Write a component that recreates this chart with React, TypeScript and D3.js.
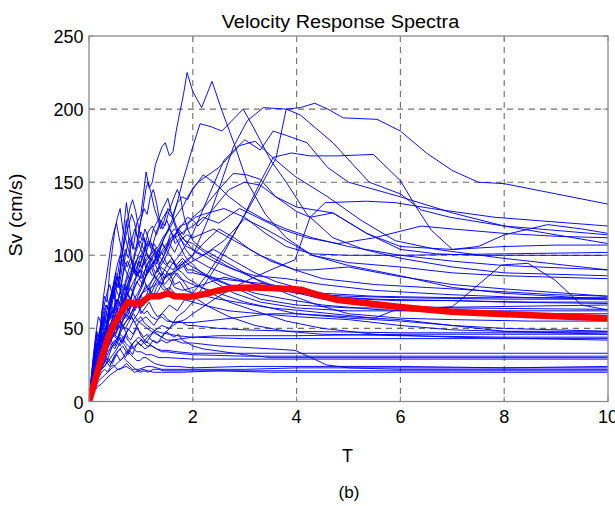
import React from "react";
import * as d3 from "d3";

// ---- axis / label data ----
const xTicks = [0, 2, 4, 6, 8, 10];
const yTicks = [0, 50, 100, 150, 200, 250];
const titleText = "Velocity Response Spectra";
const xLabel = "T";
const yLabel = "Sv (cm/s)";
const caption = "(b)";

// ---- individual record spectra [T, Sv] ----
const rec01 = [[0,0],[0.06,14],[0.12,30],[0.18,42],[0.25,55],[0.32,50],[0.4,68],[0.48,62],[0.55,85],[0.62,78],[0.7,100],[0.78,112],[0.85,104],[0.92,122],[1.0,128],[1.05,142],[1.1,157],[1.16,146],[1.22,150],[1.28,162],[1.34,168],[1.4,174],[1.47,177],[1.55,168],[1.62,171],[1.68,185],[1.74,196],[1.82,210],[1.89,225],[2.0,212],[2.17,201],[2.37,219],[2.55,200],[2.8,176],[3.05,150],[3.4,128],[3.8,112],[4.3,100],[5,93],[6,86],[7,78],[8,74],[9,72],[10,70]];
const rec02 = [[0,0],[0.07,12],[0.14,24],[0.22,38],[0.3,34],[0.38,48],[0.46,56],[0.55,52],[0.64,66],[0.72,74],[0.8,70],[0.9,84],[1.0,90],[1.1,86],[1.2,98],[1.3,94],[1.4,108],[1.5,116],[1.6,124],[1.7,136],[1.8,150],[1.9,162],[1.98,172],[2.14,190],[2.35,188],[2.56,185],[2.97,200],[3.16,188],[3.5,165],[3.8,150],[4.2,128],[4.7,112],[5.3,104],[6,98],[7,92],[8,88],[9,87],[10,86]];
const rec03 = [[0,0],[0.08,16],[0.16,30],[0.24,42],[0.32,38],[0.4,52],[0.5,58],[0.6,50],[0.7,62],[0.8,70],[0.9,64],[1.0,72],[1.1,80],[1.2,74],[1.3,82],[1.42,88],[1.55,84],[1.7,90],[1.85,96],[2.0,100],[2.3,125],[2.52,147],[2.78,174],[3.05,192],[3.36,201],[3.8,200],[4.07,196],[4.7,177],[5.4,150],[6,142],[6.4,131],[6.96,126],[8,120],[10,114]];
const rec04 = [[0,0],[0.08,12],[0.16,24],[0.25,32],[0.35,28],[0.45,38],[0.55,44],[0.65,40],[0.75,50],[0.85,46],[0.95,54],[1.1,58],[1.25,52],[1.4,60],[1.55,66],[1.7,62],[1.85,70],[2.0,74],[2.3,88],[2.8,115],[3.2,140],[3.5,160],[3.6,166],[3.8,200],[4.07,201],[4.35,204],[4.6,200],[4.9,194],[5.55,193],[6.0,185],[6.5,170],[7.0,158],[7.5,150],[8.0,149],[9,142],[10,135]];
const rec05 = [[0,0],[0.08,10],[0.16,18],[0.25,24],[0.35,30],[0.45,26],[0.55,34],[0.65,38],[0.75,32],[0.85,40],[0.95,44],[1.1,40],[1.25,48],[1.4,52],[1.55,50],[1.7,58],[1.85,62],[2.0,68],[2.5,95],[3.0,128],[3.3,150],[3.55,167],[3.9,170],[4.26,168],[4.8,168],[5.48,169],[6.0,151],[6.34,131],[6.6,117],[7.0,104],[7.5,106],[8.0,114],[8.84,121],[9.5,118],[10,115]];
const rec06 = [[0,0],[0.06,14],[0.12,28],[0.2,40],[0.28,48],[0.36,44],[0.44,56],[0.52,68],[0.6,72],[0.68,66],[0.76,82],[0.84,90],[0.92,86],[1.0,96],[1.08,104],[1.16,98],[1.25,108],[1.35,102],[1.45,112],[1.55,118],[1.65,112],[1.75,120],[1.9,122],[2.0,126],[2.2,132],[2.5,145],[2.78,156],[3.04,155],[3.3,152],[3.6,140],[4.0,130],[4.26,126],[4.7,129],[5.35,115],[6,104],[6.7,101],[7.5,100],[8.5,100],[10,100]];
const rec07 = [[0,0],[0.07,12],[0.14,22],[0.22,32],[0.3,28],[0.38,40],[0.46,46],[0.55,42],[0.64,54],[0.72,60],[0.8,56],[0.9,66],[1.0,72],[1.1,68],[1.2,78],[1.3,84],[1.4,80],[1.5,88],[1.6,94],[1.7,98],[1.85,106],[2.0,115],[2.3,140],[2.6,165],[3.0,179],[3.3,172],[3.55,185],[3.8,182],[4.2,177],[4.6,160],[5.0,150],[5.3,147],[6,140],[7,129],[8,120],[10,108]];
const rec08 = [[0,0],[0.07,10],[0.15,18],[0.24,22],[0.32,28],[0.4,24],[0.5,32],[0.6,36],[0.7,30],[0.8,38],[0.9,42],[1.0,38],[1.12,44],[1.25,48],[1.4,44],[1.55,50],[1.7,54],[1.85,56],[2.0,60],[2.5,72],[3.0,82],[3.5,90],[3.97,97],[4.26,126],[4.55,136],[5.35,137],[5.9,136],[6.6,132],[7.82,126],[10,120]];
const rec09 = [[0,0],[0.06,16],[0.12,32],[0.2,46],[0.28,58],[0.34,52],[0.42,66],[0.5,78],[0.58,72],[0.66,88],[0.74,96],[0.82,90],[0.9,102],[0.98,110],[1.06,104],[1.14,116],[1.22,120],[1.3,114],[1.4,124],[1.5,130],[1.6,126],[1.7,136],[1.8,140],[1.9,138],[2.0,146],[2.1,150],[2.5,160],[2.9,175],[3.2,178],[3.6,165],[3.97,154],[4.6,140],[5.24,124],[5.9,110],[6.7,104],[7.97,98],[10,90]];
const rec10 = [[0,0],[0.06,14],[0.13,30],[0.2,44],[0.27,40],[0.35,54],[0.43,62],[0.5,58],[0.58,72],[0.66,80],[0.74,76],[0.82,86],[0.9,90],[0.98,84],[1.06,96],[1.15,100],[1.24,94],[1.33,104],[1.42,108],[1.52,102],[1.62,112],[1.72,118],[1.82,114],[1.92,122],[2.05,126],[2.2,128],[2.6,132],[3.0,126],[3.4,115],[3.8,106],[4.3,101],[5,100],[6,100],[8,101],[10,102]];
const rec11 = [[0,0],[0.05,16],[0.1,32],[0.16,46],[0.22,42],[0.28,58],[0.34,66],[0.4,62],[0.46,78],[0.52,88],[0.58,84],[0.64,100],[0.7,112],[0.76,120],[0.82,128],[0.88,122],[0.94,110],[1.0,104],[1.06,112],[1.12,100],[1.2,96],[1.28,104],[1.36,94],[1.45,100],[1.55,108],[1.65,102],[1.75,110],[1.88,114],[2.0,112],[2.4,118],[2.8,110],[3.3,100],[3.97,90],[4.3,90],[5.0,92],[5.9,86],[7.0,80],[8.0,77],[10,72]];
const rec12 = [[0,0],[0.05,18],[0.1,34],[0.15,46],[0.2,42],[0.26,58],[0.32,66],[0.38,62],[0.44,76],[0.5,82],[0.56,78],[0.62,96],[0.68,112],[0.72,124],[0.78,108],[0.84,92],[0.9,86],[0.96,96],[1.02,92],[1.1,102],[1.18,110],[1.25,104],[1.32,96],[1.4,102],[1.5,94],[1.6,98],[1.7,90],[1.8,94],[1.9,88],[2.0,88],[2.5,84],[3.0,82],[3.5,80],[3.97,77],[4.6,72],[5.3,70],[5.9,69],[7.0,69],[8.0,68],[10,67]];
const rec13 = [[0,0],[0.06,14],[0.12,28],[0.18,36],[0.24,32],[0.3,44],[0.37,52],[0.44,48],[0.51,60],[0.58,66],[0.65,62],[0.72,76],[0.8,70],[0.88,78],[0.96,84],[1.04,80],[1.12,90],[1.2,94],[1.28,88],[1.36,92],[1.45,84],[1.55,88],[1.65,80],[1.75,82],[1.85,76],[2.0,74],[2.5,70],[3.0,67],[3.5,64],[3.97,62.6],[4.6,60.3],[5.5,57],[5.9,62.6],[7.0,64.8],[7.95,93.4],[8.46,94.5],[8.98,83],[9.49,66],[10,62.6]];
const rec14 = [[0,0],[0.06,12],[0.12,24],[0.2,34],[0.28,30],[0.36,42],[0.44,50],[0.52,46],[0.6,58],[0.68,66],[0.76,62],[0.84,74],[0.92,82],[1.0,78],[1.08,90],[1.16,96],[1.24,92],[1.32,102],[1.4,108],[1.48,104],[1.56,114],[1.64,118],[1.72,116],[1.8,112],[1.9,108],[2.05,102],[2.2,100],[2.6,110],[3.0,125],[3.4,118],[3.8,110],[4.3,100],[5,95],[6,92],[7,88],[8,86],[10,84]];
const rec15 = [[0,0],[0.05,16],[0.1,34],[0.15,48],[0.2,44],[0.25,62],[0.3,72],[0.35,68],[0.4,90],[0.45,104],[0.5,118],[0.55,126],[0.6,132],[0.65,118],[0.7,112],[0.76,104],[0.82,96],[0.88,88],[0.94,94],[1.0,100],[1.06,96],[1.12,88],[1.2,92],[1.28,84],[1.36,88],[1.45,80],[1.55,84],[1.65,78],[1.8,76],[2.0,78],[2.2,80],[2.6,85],[3.0,82],[3.5,78],[4,74],[5,72],[6,71],[8,70],[10,70]];
const rec16 = [[0,0],[0.05,18],[0.1,34],[0.15,44],[0.2,40],[0.26,54],[0.32,62],[0.38,58],[0.44,72],[0.5,82],[0.56,78],[0.62,96],[0.68,112],[0.74,124],[0.8,134],[0.84,138],[0.9,130],[0.96,118],[1.02,110],[1.08,118],[1.14,112],[1.2,104],[1.28,98],[1.36,92],[1.44,96],[1.52,102],[1.6,98],[1.7,92],[1.8,96],[1.9,90],[2.0,90],[2.3,85],[2.8,78],[3.3,70],[4,66],[5,64],[6,64],[8,65],[10,66]];
const rec17 = [[0,0],[0.06,14],[0.12,28],[0.18,38],[0.24,34],[0.3,46],[0.36,54],[0.42,50],[0.48,62],[0.55,70],[0.62,66],[0.7,82],[0.78,92],[0.86,98],[0.92,108],[0.98,120],[1.04,132],[1.1,146],[1.14,150],[1.2,142],[1.26,132],[1.32,126],[1.38,118],[1.45,124],[1.52,132],[1.6,128],[1.68,120],[1.76,114],[1.85,110],[2.0,108],[2.3,100],[2.7,92],[3.2,84],[3.8,76],[4.5,70],[5.5,66],[7,64],[10,63]];
const rec18 = [[0,0],[0.04,16],[0.08,30],[0.13,46],[0.18,58],[0.23,54],[0.28,72],[0.33,84],[0.38,96],[0.43,108],[0.48,116],[0.53,122],[0.58,112],[0.63,104],[0.68,96],[0.74,92],[0.8,98],[0.86,94],[0.92,86],[0.98,90],[1.05,84],[1.12,78],[1.2,82],[1.28,86],[1.36,80],[1.45,76],[1.55,78],[1.65,74],[1.8,70],[2.0,68],[2.2,66],[2.7,62],[3.3,60],[4,58],[5,56],[6,52],[7,49],[8,48],[10,48]];
const rec19 = [[0,0],[0.05,14],[0.1,28],[0.16,38],[0.22,46],[0.28,42],[0.34,54],[0.4,60],[0.46,56],[0.52,70],[0.58,66],[0.64,74],[0.7,78],[0.76,72],[0.82,68],[0.88,62],[0.94,66],[1.0,60],[1.08,64],[1.16,68],[1.24,62],[1.32,58],[1.42,60],[1.52,56],[1.62,54],[1.75,55],[1.9,52],[2.0,52],[2.5,50],[3,49],[4,48],[6,47],[8,47],[10,47]];
const rec20 = [[0,0],[0.05,12],[0.1,24],[0.16,34],[0.22,30],[0.28,40],[0.35,48],[0.42,54],[0.5,50],[0.58,56],[0.66,60],[0.74,58],[0.82,66],[0.9,70],[0.98,64],[1.06,66],[1.14,72],[1.22,70],[1.3,78],[1.38,82],[1.46,78],[1.54,76],[1.62,84],[1.7,88],[1.78,84],[1.86,80],[1.94,76],[2.0,72],[2.3,65],[2.7,58],[3.2,52],[3.8,48],[4.5,46],[6,45],[8,44],[10,44]];
const rec21 = [[0,0],[0.06,10],[0.12,20],[0.18,28],[0.24,34],[0.3,32],[0.36,38],[0.42,42],[0.48,46],[0.55,44],[0.62,50],[0.7,54],[0.78,58],[0.86,64],[0.94,72],[1.02,78],[1.1,86],[1.18,92],[1.25,96],[1.32,90],[1.4,86],[1.48,92],[1.56,96],[1.64,94],[1.72,90],[1.8,88],[1.9,84],[2.0,82],[2.3,75],[2.7,68],[3.2,62],[3.8,55],[4.5,50],[5.5,46],[7,44],[10,42]];
const rec22 = [[0,0],[0.05,14],[0.1,26],[0.15,34],[0.2,38],[0.25,44],[0.3,48],[0.35,44],[0.4,52],[0.45,50],[0.5,46],[0.55,50],[0.6,56],[0.65,52],[0.7,48],[0.75,44],[0.8,42],[0.86,46],[0.92,50],[0.98,48],[1.05,44],[1.12,46],[1.2,42],[1.3,40],[1.4,42],[1.5,40],[1.6,42],[1.8,43],[2.0,44],[2.5,45],[3,45],[4,45],[6,46],[8,46],[10,46]];
const rec23 = [[0,0],[0.04,14],[0.08,24],[0.13,32],[0.18,38],[0.23,46],[0.28,52],[0.33,60],[0.38,68],[0.43,74],[0.47,76],[0.52,66],[0.57,60],[0.62,58],[0.67,64],[0.72,66],[0.77,62],[0.82,58],[0.88,54],[0.94,56],[1.0,58],[1.06,54],[1.12,52],[1.2,50],[1.3,48],[1.4,47],[1.55,46],[1.7,45],[2.0,44],[3,43],[4,43],[6,43],[8,43],[10,43]];
const rec24 = [[0,0],[0.05,12],[0.1,22],[0.15,28],[0.2,26],[0.25,32],[0.3,36],[0.35,40],[0.4,44],[0.45,40],[0.5,38],[0.55,42],[0.6,46],[0.65,44],[0.7,40],[0.76,38],[0.82,36],[0.88,38],[0.94,40],[1.0,42],[1.06,40],[1.12,38],[1.2,38],[1.3,36],[1.4,35],[1.5,35],[1.7,34],[2,33],[3,33],[4,33],[6,33],[8,33],[10,33]];
const rec25 = [[0,0],[0.05,10],[0.1,20],[0.16,26],[0.22,24],[0.28,32],[0.34,36],[0.4,42],[0.46,46],[0.52,50],[0.58,56],[0.64,52],[0.7,50],[0.76,54],[0.82,58],[0.88,54],[0.94,50],[1.0,45],[1.07,42],[1.14,40],[1.22,38],[1.3,36],[1.4,34],[1.5,34],[1.7,33],[2,32],[3,31],[4,31],[6,31],[8,31],[10,31]];
const rec26 = [[0,0],[0.06,8],[0.12,14],[0.18,18],[0.24,22],[0.3,24],[0.36,28],[0.42,26],[0.48,30],[0.54,32],[0.6,28],[0.66,30],[0.72,34],[0.78,35],[0.84,32],[0.9,38],[0.96,40],[1.02,38],[1.08,36],[1.16,38],[1.24,42],[1.32,40],[1.4,44],[1.48,48],[1.56,46],[1.64,44],[1.72,46],[1.8,42],[1.9,40],[2.0,38],[2.2,36],[2.6,34],[3,32],[3.5,30],[4,30],[6,30],[8,30],[10,30]];
const rec27 = [[0,0],[0.05,14],[0.1,26],[0.15,34],[0.2,32],[0.25,40],[0.3,46],[0.35,52],[0.4,58],[0.45,62],[0.5,66],[0.55,70],[0.6,66],[0.65,62],[0.7,58],[0.75,56],[0.8,58],[0.86,60],[0.92,56],[0.98,54],[1.05,52],[1.12,50],[1.2,48],[1.3,46],[1.4,44],[1.5,42],[1.65,42],[1.8,40],[2.0,40],[2.5,38],[3.0,37],[3.5,36],[3.97,35],[4.58,25],[5,23],[6,22],[8,22],[10,22]];
const rec28 = [[0,0],[0.05,10],[0.1,18],[0.15,24],[0.2,22],[0.25,28],[0.3,30],[0.35,34],[0.4,36],[0.45,40],[0.5,42],[0.55,40],[0.6,38],[0.65,42],[0.7,45],[0.75,42],[0.8,40],[0.86,36],[0.92,34],[1.0,34],[1.1,32],[1.2,32],[1.35,30],[1.5,30],[2,29],[3,29],[4,29],[6,29],[8,29],[10,29]];
const rec29 = [[0,0],[0.06,8],[0.12,14],[0.18,16],[0.24,20],[0.3,22],[0.36,20],[0.42,24],[0.48,25],[0.54,22],[0.6,22],[0.66,24],[0.72,26],[0.78,24],[0.84,22],[0.9,22],[0.98,20],[1.06,21],[1.14,20],[1.24,22],[1.34,22],[1.44,21],[1.6,21],[1.8,21],[2,21],[3,21],[4,21],[6,21],[8,21],[10,21]];
const rec30 = [[0,0],[0.06,6],[0.12,10],[0.18,14],[0.24,16],[0.3,18],[0.36,20],[0.42,22],[0.48,24],[0.54,26],[0.6,28],[0.66,30],[0.72,28],[0.78,26],[0.84,24],[0.9,22],[0.96,22],[1.04,23],[1.12,24],[1.2,24],[1.3,23],[1.4,22],[1.5,22],[1.7,22],[2,22],[3,22],[4,23],[6,23],[8,23],[10,23]];
const rec31 = [[0,0],[0.08,6],[0.16,10],[0.24,12],[0.32,15],[0.4,18],[0.48,20],[0.56,22],[0.64,23],[0.72,24],[0.8,22],[0.88,20],[0.96,21],[1.04,22],[1.14,21],[1.24,20],[1.4,20],[1.6,20],[1.8,20],[2.5,21],[3.5,20],[5,20],[7,20],[10,20]];
const rec32 = [[0,0],[0.05,10],[0.1,18],[0.15,24],[0.2,22],[0.25,28],[0.3,32],[0.35,36],[0.4,40],[0.45,38],[0.5,36],[0.55,40],[0.6,44],[0.65,40],[0.7,38],[0.75,34],[0.8,32],[0.86,30],[0.92,28],[0.98,28],[1.04,30],[1.1,30],[1.18,28],[1.26,26],[1.36,25],[1.5,24],[1.7,24],[2,23],[3,24],[4,24],[6,24],[8,23],[10,24]];
const rec33 = [[0,0],[0.05,16],[0.1,30],[0.15,40],[0.2,38],[0.25,50],[0.3,58],[0.35,54],[0.4,68],[0.45,76],[0.5,86],[0.55,94],[0.6,100],[0.65,96],[0.7,90],[0.75,86],[0.8,82],[0.85,88],[0.9,94],[0.95,100],[1.0,104],[1.05,100],[1.1,94],[1.16,90],[1.22,86],[1.3,88],[1.38,92],[1.46,90],[1.55,86],[1.65,88],[1.75,84],[1.88,82],[2,80],[2.5,74],[3,68],[3.5,64],[4,60],[5,57],[6,55],[7,52],[8,50],[10,48]];
const rec34 = [[0,0],[0.06,12],[0.12,24],[0.18,32],[0.24,30],[0.3,40],[0.36,48],[0.42,46],[0.48,56],[0.55,64],[0.62,62],[0.7,76],[0.78,84],[0.85,92],[0.92,88],[1.0,84],[1.08,90],[1.15,96],[1.22,100],[1.3,102],[1.38,98],[1.46,94],[1.54,92],[1.62,90],[1.7,94],[1.8,98],[1.9,94],[2.0,92],[2.3,86],[2.7,80],[3.2,74],[3.8,70],[4.5,66],[5.5,63],[7,61],[8.5,60],[10,60]];
const rec35 = [[0,0],[0.07,10],[0.14,18],[0.22,22],[0.3,24],[0.38,28],[0.46,32],[0.54,36],[0.62,42],[0.7,46],[0.78,50],[0.86,56],[0.94,60],[1.02,66],[1.1,72],[1.18,80],[1.26,86],[1.34,92],[1.42,98],[1.5,106],[1.58,112],[1.64,114],[1.7,110],[1.76,106],[1.84,100],[1.92,96],[2.0,94],[2.1,90],[2.4,82],[2.8,74],[3.3,68],[4,64],[5,62],[6,62],[8,62],[10,62]];
const rec36 = [[0,0],[0.06,10],[0.12,18],[0.18,24],[0.24,22],[0.3,28],[0.38,34],[0.46,38],[0.54,42],[0.62,48],[0.7,54],[0.78,58],[0.86,64],[0.94,68],[1.02,74],[1.1,78],[1.18,76],[1.26,72],[1.34,76],[1.42,82],[1.5,86],[1.6,88],[1.7,90],[1.8,92],[1.95,95],[2.1,98],[2.4,104],[2.8,96],[3.2,88],[3.6,82],[4,78],[4.5,74],[5.5,72],[7,71],[10,71]];
const rec37 = [[0,0],[0.05,14],[0.1,26],[0.15,34],[0.2,32],[0.25,42],[0.3,50],[0.35,48],[0.4,62],[0.45,72],[0.5,80],[0.55,86],[0.6,98],[0.64,110],[0.68,122],[0.72,136],[0.76,126],[0.8,114],[0.85,106],[0.9,104],[0.95,110],[1.0,116],[1.06,112],[1.12,106],[1.18,110],[1.24,118],[1.3,122],[1.36,126],[1.42,132],[1.48,136],[1.52,139],[1.58,130],[1.64,122],[1.7,116],[1.78,110],[1.88,106],[2.0,104],[2.4,96],[2.8,90],[3.2,86],[3.8,84],[4.5,80],[5.5,76],[7,73],[8.5,71],[10,70]];
const rec38 = [[0,0],[0.04,12],[0.08,24],[0.12,34],[0.16,40],[0.2,48],[0.24,56],[0.28,64],[0.32,70],[0.36,76],[0.4,80],[0.44,74],[0.48,70],[0.52,86],[0.56,82],[0.6,76],[0.65,70],[0.7,68],[0.75,74],[0.8,78],[0.85,74],[0.9,70],[0.95,66],[1.0,62],[1.06,60],[1.12,62],[1.2,58],[1.3,56],[1.4,58],[1.5,55],[1.7,54],[2,54],[2.5,56],[3,58],[3.5,60],[4,60],[5,58],[6,56],[7,52],[8,48],[10,46]];
const rec39 = [[0,0],[0.06,12],[0.12,24],[0.18,32],[0.24,30],[0.3,38],[0.36,46],[0.42,50],[0.48,48],[0.55,58],[0.62,66],[0.7,70],[0.78,76],[0.86,82],[0.94,88],[1.02,92],[1.1,96],[1.18,100],[1.26,104],[1.34,106],[1.42,112],[1.5,116],[1.58,120],[1.66,126],[1.74,130],[1.82,134],[1.9,140],[2.0,145],[2.2,155],[2.4,150],[2.7,140],[3.0,132],[3.4,124],[3.8,118],[4.3,112],[5,106],[6,100],[7,96],[8,93],[10,90]];
const rec40 = [[0,0],[0.06,12],[0.12,22],[0.18,30],[0.24,28],[0.3,36],[0.38,42],[0.46,46],[0.54,52],[0.62,56],[0.7,60],[0.78,64],[0.86,66],[0.94,70],[1.02,74],[1.1,76],[1.2,78],[1.3,80],[1.4,84],[1.5,86],[1.6,88],[1.7,92],[1.8,94],[1.9,96],[2.0,100],[2.2,108],[2.5,118],[2.8,112],[3.1,104],[3.5,96],[3.97,90],[4.5,84],[5.5,80],[6.5,78],[7.5,76],[9,73],[10,72]];
const rec41 = [[0,0],[0.06,10],[0.12,20],[0.18,28],[0.24,26],[0.3,32],[0.38,38],[0.46,44],[0.54,48],[0.62,54],[0.7,58],[0.78,64],[0.86,70],[0.94,74],[1.02,80],[1.1,86],[1.18,90],[1.26,96],[1.34,100],[1.42,104],[1.5,108],[1.58,112],[1.66,114],[1.74,118],[1.82,122],[1.9,126],[2.0,124],[2.1,120],[2.4,132],[2.7,145],[3.0,150],[3.3,148],[3.6,140],[4.0,133],[4.7,129],[5.35,115],[6,106],[7,104],[8,106],[9,107],[10,107]];
const rec42 = [[0,0],[0.05,14],[0.1,26],[0.16,36],[0.22,34],[0.28,44],[0.34,52],[0.4,56],[0.46,62],[0.52,66],[0.58,72],[0.64,76],[0.7,80],[0.76,86],[0.82,90],[0.88,94],[0.94,98],[1.0,100],[1.06,104],[1.12,108],[1.18,106],[1.24,104],[1.3,102],[1.36,100],[1.42,102],[1.5,106],[1.58,110],[1.66,112],[1.74,114],[1.82,116],[1.9,118],[2.0,120],[2.2,126],[2.5,122],[2.9,132],[3.3,125],[3.7,118],[4.2,112],[4.8,108],[5.5,112],[6.4,120],[7,118],[8,115],[9,113],[10,112]];
const rec43 = [[0,0],[0.05,14],[0.1,28],[0.16,40],[0.22,36],[0.28,50],[0.34,60],[0.4,56],[0.46,70],[0.52,82],[0.58,78],[0.64,92],[0.7,104],[0.76,98],[0.82,110],[0.88,118],[0.94,112],[1.0,124],[1.06,132],[1.12,128],[1.18,140],[1.24,145],[1.3,136],[1.36,124],[1.42,118],[1.5,124],[1.58,116],[1.66,108],[1.76,112],[1.86,104],[2.0,98],[2.3,92],[2.7,86],[3.2,80],[3.8,76],[4.5,72],[5.5,70],[7,69],[8.5,68],[10,68]];
const rec44 = [[0,0],[0.05,12],[0.1,24],[0.16,34],[0.22,30],[0.28,42],[0.34,50],[0.4,46],[0.46,58],[0.52,64],[0.58,60],[0.64,72],[0.7,80],[0.76,76],[0.82,88],[0.9,96],[0.98,92],[1.06,102],[1.14,110],[1.22,106],[1.3,116],[1.38,124],[1.46,120],[1.54,130],[1.62,138],[1.7,145],[1.76,140],[1.82,128],[1.9,118],[2.0,110],[2.2,104],[2.5,98],[2.9,90],[3.3,82],[3.8,74],[4.4,66],[5,60],[6,57],[7,56],[8.5,55],[10,55]];

const records = [rec01,rec02,rec03,rec04,rec05,rec06,rec07,rec08,rec09,rec10,rec11,rec12,rec13,rec14,rec15,rec16,rec17,rec18,rec19,rec20,rec21,rec22,rec23,rec24,rec25,rec26,rec27,rec28,rec29,rec30,rec31,rec32,rec33,rec34,rec35,rec36,rec37,rec38,rec39,rec40,rec41,rec42,rec43,rec44];

// ---- mean spectrum (red) ----
const meanSv = [[0,0],[0.1,12],[0.2,25],[0.3,36],[0.37,44],[0.46,51],[0.6,60],[0.75,68],[0.85,67],[0.98,67],[1.17,72],[1.35,72],[1.52,74],[1.65,72],[1.97,71.7],[2.23,73.5],[2.5,76],[2.74,77.6],[3.19,78],[3.6,77.5],[4.08,76.5],[4.4,73],[4.8,69.4],[5.4,67],[5.95,64.8],[6.5,63],[6.99,61.4],[7.5,60.5],[7.95,59.8],[9,58.3],[10,56.9]];

const W = 615, H = 506;
const M = { left: 89, right: 608, top: 36, bottom: 401.5 };

export default function App() {
  const x = d3.scaleLinear().domain([0, 10]).range([M.left, M.right]);
  const y = d3.scaleLinear().domain([0, 250]).range([M.bottom, M.top]);
  const line = d3.line<number[]>().x(d => x(d[0])).y(d => y(d[1]));
  const font = "'Liberation Sans', Arial, Helvetica, sans-serif";
  const gridColor = "#6e6e6e";
  const axisColor = "#8a8a8a";
  return (
    <svg width={W} height={H} style={{ position: "absolute", left: 0, top: 0, background: "#fff" }} fontFamily={font}>
      <defs>
        <clipPath id="plotclip">
          <rect x={M.left} y={M.top} width={M.right - M.left} height={M.bottom - M.top} />
        </clipPath>
      </defs>
      <rect x={0} y={0} width={W} height={H} fill="#fff" />
      {/* grid */}
      {xTicks.filter(t => t > 0 && t < 10).map(t => (
        <line key={"gx" + t} x1={x(t)} x2={x(t)} y1={M.top} y2={M.bottom} stroke={gridColor} strokeWidth={1.1} strokeDasharray="6,5" />
      ))}
      {yTicks.filter(t => t > 0 && t < 250).map(t => (
        <line key={"gy" + t} x1={M.left} x2={M.right} y1={y(t)} y2={y(t)} stroke={gridColor} strokeWidth={1.1} strokeDasharray="6,5" />
      ))}
      {/* spectra */}
      <g clipPath="url(#plotclip)">
        {records.map((r, i) => (
          <path key={i} d={line(r as number[][]) || ""} fill="none" stroke="#0000ff" strokeWidth={0.95} strokeLinejoin="round" />
        ))}
        <path d={line(meanSv as number[][]) || ""} fill="none" stroke="#ff0000" strokeWidth={6.5} strokeLinejoin="round" strokeLinecap="round" />
      </g>
      {/* axes box */}
      <rect x={M.left} y={M.top} width={M.right - M.left} height={M.bottom - M.top} fill="none" stroke={axisColor} strokeWidth={1.3} />
      {xTicks.map(t => (
        <g key={"tx" + t}>
          <line x1={x(t)} x2={x(t)} y1={M.bottom} y2={M.bottom - 5} stroke={axisColor} />
          <line x1={x(t)} x2={x(t)} y1={M.top} y2={M.top + 5} stroke={axisColor} />
          <text x={x(t)} y={M.bottom + 21.5} textAnchor="middle" fontSize={18} fill="#000">{t}</text>
        </g>
      ))}
      {yTicks.map(t => (
        <g key={"ty" + t}>
          <line x1={M.left} x2={M.left + 5} y1={y(t)} y2={y(t)} stroke={axisColor} />
          <line x1={M.right} x2={M.right - 5} y1={y(t)} y2={y(t)} stroke={axisColor} />
          <text x={83.5} y={y(t) + 7} textAnchor="end" fontSize={18} fill="#000">{t}</text>
        </g>
      ))}
      <text x={221.7} y={28.3} fontSize={18} textLength={237.5} lengthAdjust="spacingAndGlyphs" fill="#000">{titleText}</text>
      <text x={347.5} y={461.5} textAnchor="middle" fontSize={18} fill="#000">{xLabel}</text>
      <text x={349} y={497.5} textAnchor="middle" fontSize={17} fill="#000">{caption}</text>
      <text transform={`translate(22, 215) rotate(-90)`} textAnchor="middle" fontSize={18} textLength={83} lengthAdjust="spacingAndGlyphs" fill="#000">{yLabel}</text>
    </svg>
  );
}
